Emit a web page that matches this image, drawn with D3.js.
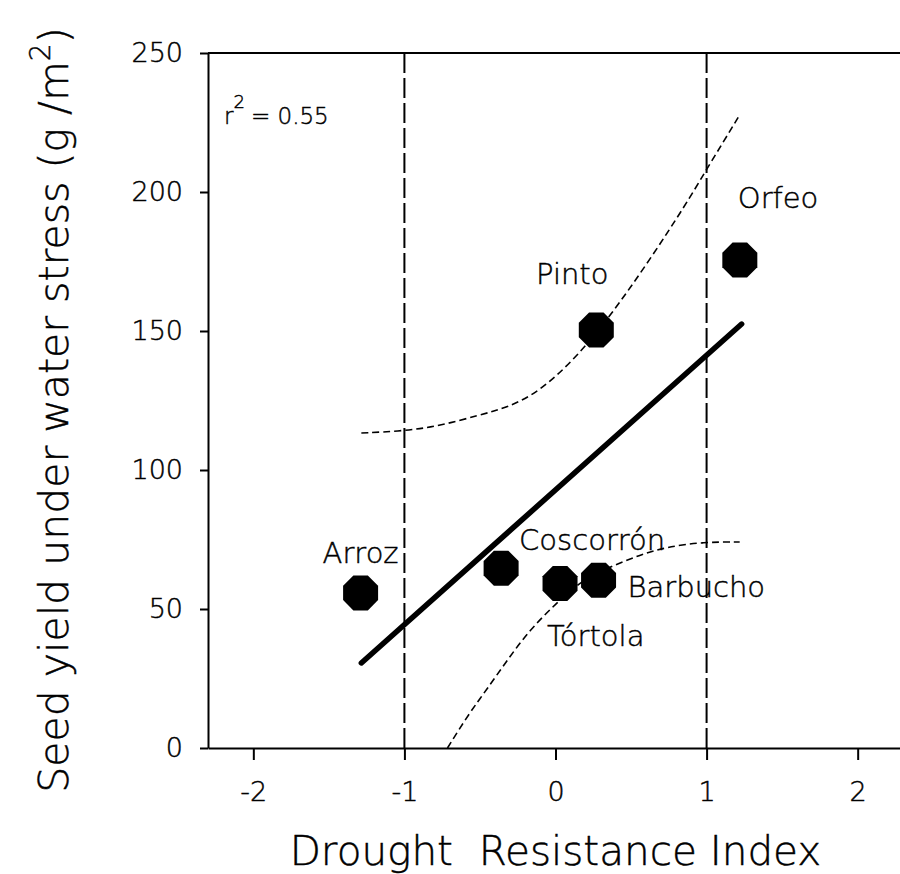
<!DOCTYPE html>
<html>
<head>
<meta charset="utf-8">
<script src="https://cdn.jsdelivr.net/npm/d3@7"></script>
<style>
  html, body { margin: 0; padding: 0; background: #fff; }
  svg { display: block; }
  text { font-family: "DejaVu Sans", "Liberation Sans", sans-serif; font-weight: 200; fill: #000; stroke: #000; stroke-width: 0.45px; }
</style>
</head>
<body>
<svg id="chart" width="900" height="874"></svg>
<script>
// Cultivars and their measured values
const cultivars = ["Arroz", "Coscorrón", "Tórtola", "Barbucho", "Pinto", "Orfeo"];
const droughtIndex = [-1.29, -0.36, 0.03, 0.285, 0.27, 1.22];
const seedYield = [55.8, 64.7, 59.2, 60.3, 150.4, 175.5];

// Fitted regression line (end points)
const fitX = [-1.285, 1.232];
const fitY = [30.6, 152.5];

// 95% confidence band, upper and lower limits
const upperX = [-1.285, -1.007, -0.768, -0.503, -0.325, -0.106, 0.139, 0.358, 0.623, 0.868, 0.987, 1.106, 1.219];
const upperY = [113.3, 114.0, 115.8, 119.8, 122.3, 128.1, 140.6, 155.0, 175.5, 196.0, 207.0, 217.6, 227.7];
const lowerX = [-0.715, -0.570, -0.457, -0.318, -0.172, 0.007, 0.179, 0.358, 0.556, 0.735, 0.974, 1.219];
const lowerY = [0, 12.6, 20.9, 31.7, 42.4, 52.2, 60.4, 65.1, 69.4, 72.3, 74.1, 74.1];

// Reference lines at index = -1 and +1
const refLines = [-1, 1];

// Axis ticks
const xTicks = [-2, -1, 0, 1, 2];
const yTicks = [0, 50, 100, 150, 200, 250];

const r2Text = "0.55";

// ---- layout ----
const plot = { left: 208, right: 903, top: 53, bottom: 748 };

// label placement relative to each marker centre (px)
const labelLayout = {
  "Arroz":     { dx: 0,   dy: -30, anchor: "middle" },
  "Coscorrón": { dx: 18,  dy: -18, anchor: "start" },
  "Tórtola":   { dx: -13, dy: 63,  anchor: "start" },
  "Barbucho":  { dx: 29,  dy: 17,  anchor: "start" },
  "Pinto":     { dx: -24, dy: -46, anchor: "middle" },
  "Orfeo":     { dx: -2,  dy: -52, anchor: "start" }
};

const svg = d3.select("#chart");

const x = d3.scaleLinear().domain([-2.3, 2.3]).range([plot.left, plot.right]);
const y = d3.scaleLinear().domain([0, 250]).range([plot.bottom, plot.top]);

// frame: top border and right border
svg.append("line")
  .attr("x1", plot.left).attr("x2", plot.right)
  .attr("y1", plot.top).attr("y2", plot.top)
  .attr("stroke", "#000").attr("stroke-width", 2);
svg.append("line")
  .attr("x1", plot.right).attr("x2", plot.right)
  .attr("y1", plot.top).attr("y2", plot.bottom)
  .attr("stroke", "#000").attr("stroke-width", 2);

// dashed reference lines
svg.selectAll(".ref")
  .data(refLines)
  .join("line")
  .attr("class", "ref")
  .attr("x1", d => x(d)).attr("x2", d => x(d))
  .attr("y1", y(250)).attr("y2", y(0))
  .attr("stroke", "#000")
  .attr("stroke-width", 2)
  .attr("stroke-dasharray", "20,5");

// axes
const xAxis = d3.axisBottom(x)
  .tickValues(xTicks)
  .tickSizeInner(12)
  .tickSizeOuter(0)
  .tickPadding(22)
  .tickFormat(d3.format("d"));
const gx = svg.append("g")
  .attr("transform", `translate(0,${plot.bottom})`)
  .call(xAxis);

const yAxis = d3.axisLeft(y)
  .tickValues(yTicks)
  .tickSizeInner(8)
  .tickSizeOuter(0)
  .tickPadding(17)
  .tickFormat(d3.format("d"));
const gy = svg.append("g")
  .attr("transform", `translate(${plot.left},0)`)
  .call(yAxis);

[gx, gy].forEach(g => {
  g.select(".domain").attr("stroke", "#000").attr("stroke-width", 2);
  g.selectAll(".tick line").attr("stroke", "#000").attr("stroke-width", 2);
  g.selectAll(".tick text")
    .attr("font-family", null)
    .attr("font-size", 27)
    .attr("fill", "#000");
});
// negative ticks printed with a short hyphen
gx.selectAll(".tick text").text(d => d < 0 ? "-" + Math.abs(d) : String(d));

// confidence band
const bandLine = d3.line()
  .x(d => x(d[0]))
  .y(d => y(d[1]))
  .curve(d3.curveBasis);

const upper = upperX.map((v, i) => [v, upperY[i]]);
const lower = lowerX.map((v, i) => [v, lowerY[i]]);

svg.selectAll(".band")
  .data([upper, lower])
  .join("path")
  .attr("class", "band")
  .attr("d", bandLine)
  .attr("fill", "none")
  .attr("stroke", "#000")
  .attr("stroke-width", 1.6)
  .attr("stroke-dasharray", "7,4");

// regression line
svg.append("path")
  .attr("d", d3.line().x(d => x(d[0])).y(d => y(d[1]))(fitX.map((v, i) => [v, fitY[i]])))
  .attr("fill", "none")
  .attr("stroke", "#000")
  .attr("stroke-width", 5.5)
  .attr("stroke-linecap", "round");

// octagon markers
const apothem = 17.5;
const circR = apothem / Math.cos(Math.PI / 8);
const octagon = d3.range(8).map(k => {
  const a = Math.PI / 8 + k * Math.PI / 4;
  return [circR * Math.cos(a), circR * Math.sin(a)];
});
const octPath = "M" + octagon.map(p => p.join(",")).join("L") + "Z";

const pts = cultivars.map((name, i) => ({ name, xv: droughtIndex[i], yv: seedYield[i] }));

svg.selectAll(".pt")
  .data(pts)
  .join("path")
  .attr("class", "pt")
  .attr("d", octPath)
  .attr("transform", d => `translate(${x(d.xv)},${y(d.yv)})`)
  .attr("fill", "#000");

// cultivar labels
svg.selectAll(".lbl")
  .data(pts)
  .join("text")
  .attr("class", "lbl")
  .attr("x", d => x(d.xv) + labelLayout[d.name].dx)
  .attr("y", d => y(d.yv) + labelLayout[d.name].dy)
  .attr("text-anchor", d => labelLayout[d.name].anchor)
  .attr("font-size", 29)
  .text(d => d.name);

// r^2 annotation
const r2 = svg.append("text")
  .attr("x", 224)
  .attr("y", 124)
  .attr("font-size", 23);
r2.append("tspan").text("r");
r2.append("tspan").attr("dy", -16).attr("font-size", 18).text("2");
r2.append("tspan").attr("dy", 16).attr("dx", 6).text("= " + r2Text);

// axis titles
svg.append("text")
  .attr("x", (plot.left + plot.right) / 2)
  .attr("y", 865)
  .attr("text-anchor", "middle")
  .attr("font-size", 40.5)
  .attr("xml:space", "preserve")
  .style("white-space", "pre")
  .text("Drought  Resistance Index");

const yt = svg.append("text")
  .attr("transform", "translate(68,410) rotate(-90)")
  .attr("text-anchor", "middle")
  .attr("font-size", 41);
yt.append("tspan").text("Seed yield under water stress (g /m");
yt.append("tspan").attr("dy", -18).attr("font-size", 28).text("2");
yt.append("tspan").attr("dy", 18).text(")");
</script>
</body>
</html>
